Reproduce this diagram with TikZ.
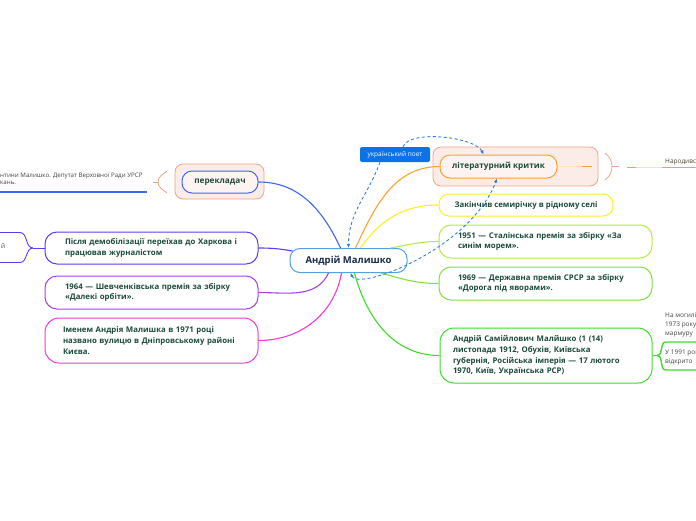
\documentclass[tikz,border=0pt]{standalone}
\usepackage{fontspec}
\setmainfont{Open Sans}
\usetikzlibrary{arrows.meta}

\definecolor{cntblue}{HTML}{559FE3}
\definecolor{navy}{HTML}{1A2B4C}
\definecolor{txtgreen}{HTML}{1D4B3B}
\definecolor{tagblue}{HTML}{0B73E6}
\definecolor{relblue}{HTML}{2F7FE0}
\definecolor{orange1}{HTML}{FFA030}
\definecolor{palorange}{HTML}{FFE2BC}
\definecolor{bndfill}{HTML}{FCECE7}
\definecolor{bndline}{HTML}{EDA48A}
\definecolor{brblue}{HTML}{3F66F0}
\definecolor{yellow1}{HTML}{FFEE22}
\definecolor{ygreen}{HTML}{B5EC3C}
\definecolor{green1}{HTML}{7FE03E}
\definecolor{green2}{HTML}{3CDD2A}
\definecolor{violet1}{HTML}{5B3DF0}
\definecolor{purple1}{HTML}{A83EF0}
\definecolor{magenta1}{HTML}{EE3AD8}
\definecolor{notegray}{HTML}{444444}

\tikzstyle{topic} = [
		rectangle,
		rounded corners = 12pt,
		draw,
		line width = 1pt,
		fill = white,
		text = txtgreen,
		font = \bfseries\fontsize{7.8}{10.8}\selectfont,
		align = left,
		inner sep = 0pt
	]
\tikzstyle{boundary} = [
		rectangle,
		rounded corners = 8pt,
		draw = bndline,
		fill = bndfill,
		line width = .8pt
	]
\tikzstyle{branch} = [
		line width = 1.1pt
	]
\tikzstyle{relation} = [
		draw = relblue,
		line width = .9pt,
		dash pattern = on 3pt off 2.5pt
	]
\tikzstyle{note} = [
		font = \fontsize{6.5}{9}\selectfont,
		text = notegray,
		inner sep = 0pt,
		align = left
	]

\begin{document}
\begin{tikzpicture}[
		x = 1pt,
		y = 1pt,
		>={Latex[length=4pt,width=3.5pt]}
	]
	\useasboundingbox (0,0) rectangle (696,-520);
	\clip (0,0) rectangle (696,-520);

		%------------------------------Topics------------------------------
		\node [topic, draw=cntblue, text=navy, rounded corners=10pt, minimum width=117pt, minimum height=24pt,
			font=\bfseries\fontsize{9.5}{11}\selectfont] (malyshko) at (348.5,-260.5) {Андрій Малишко};

		\node [boundary, minimum width=165pt, minimum height=39pt] (critbnd) at (515.5,-166.5) {};
		\node [topic, draw=orange1, fill=bndfill!60, rounded corners=10pt, minimum width=117pt, minimum height=23pt,
			font=\bfseries\fontsize{8.2}{10}\selectfont] (critic) at (498.5,-166.5) {літературний критик};
		\node [topic, draw=yellow1, rounded corners=10pt, minimum width=174pt, minimum height=22pt] (school) at (526,-205) {Закінчив семирічку в рідному селі};
		\node [topic, draw=ygreen, minimum width=213pt, minimum height=33pt, text width=175pt] (stalin) at (545.5,-241.5)
			{1951 — Сталінська премія за збірку «За\\синім морем».};
		\node [topic, draw=green1, minimum width=213pt, minimum height=33pt, text width=175pt] (ussr) at (545.5,-283.5)
			{1969 — Державна премія СРСР за збірку\\«Дорога під яворами».};
		\node [topic, draw=green2, rounded corners=14pt, minimum width=212pt, minimum height=55pt, text width=186pt] (bio) at (546,-355.5)
			{Андрій Самійлович Малйшко (1 (14)\\листопада 1912, Обухів, Київська\\губернія, Російська імперія — 17 лютого\\1970, Київ, Українська РСР)};

		\node [boundary, minimum width=89pt, minimum height=35pt] (translbnd) at (219.5,-181.5) {};
		\node [topic, draw=brblue, fill=bndfill!60, rounded corners=10pt, minimum width=76pt, minimum height=22pt,
			font=\bfseries\fontsize{8.2}{10}\selectfont] (transl) at (220,-182) {перекладач};
		\node [topic, draw=violet1, minimum width=213pt, minimum height=32pt, text width=173pt] (demob) at (151.5,-248)
			{Після демобілізації переїхав до Харкова і\\працював журналістом};
		\node [topic, draw=purple1, minimum width=213pt, minimum height=33pt, text width=173pt] (shevch) at (151.5,-292.5)
			{1964 — Шевченківська премія за збірку\\«Далекі орбіти».};
		\node [topic, draw=magenta1, rounded corners=14pt, minimum width=213pt, minimum height=45pt, text width=177pt] (street) at (151.5,-340.5)
			{Іменем Андрія Малишка в 1971 році\\названо вулицю в Дніпровському районі\\Києва.};

		\node [fill=tagblue, text=white, rounded corners=2pt, minimum width=70pt, minimum height=15pt, inner sep=0pt,
			font=\fontsize{6.5}{7}\selectfont] (poet) at (395,-154.5) {український поет};

		%------------------------------Branches------------------------------
		\draw [branch, brblue] (transl.east) to[out=0, in=115] ([xshift=-8pt]malyshko.north);
		\draw [branch, orange1] ([xshift=7pt]malyshko.north) to[out=65, in=180] (critic.west);
		\draw [branch, yellow1] ([xshift=12pt]malyshko.north) to[out=55, in=180] (school.west);
		\draw [branch, ygreen] ([xshift=42pt]malyshko.north) to[out=10, in=180] (stalin.west);
		\draw [branch, green1] ([xshift=32pt]malyshko.south) to[out=-15, in=180] (ussr.west);
		\draw [branch, green2] ([xshift=6pt]malyshko.south) to[out=-75, in=180] (bio.west);
		\draw [branch, violet1] (demob.east) to[out=0, in=170] ([shift={(3pt,-3pt)}]malyshko.north west);
		\draw [branch, purple1] ([xshift=-20pt]malyshko.south) to[out=-115, in=0] (shevch.east);
		\draw [branch, magenta1] ([xshift=-7pt]malyshko.south) to[out=-100, in=0] (street.east);

		%------------------------------Relations------------------------------
		\draw [relation, ->] ([xshift=-15pt]poet.south) to[out=-110, in=90] (malyshko.north);
		\draw [relation, ->] ([xshift=8pt]poet.north) to[out=70, in=115, looseness=.6] ([xshift=-15pt]critic.north);
		\draw [relation, <->] ([xshift=2pt]malyshko.south) .. controls +(8pt,-18pt) and +(-27pt,-71pt) .. ([xshift=-1.5pt]critic.south);

		%------------------------------Subtopics------------------------------
		% critic
		\coordinate (critstub) at (592,-166.5);
		\coordinate (critbrk) at (612,-166.5);
		\draw [line width=1.1pt, palorange] (critic.east) -- (critstub);
		\draw [line width=1.1pt, orange1] ([xshift=-10pt]critstub) -- (critstub);
		\draw [bndline, line width=.8pt] (605,-153) to[out=-40, in=90] (critbrk) to[out=-90, in=40] (605,-180);
		\draw [bndline, line width=.8pt] (critbrk) -- ++(7,0);
		\node [note, anchor=base west] (critnote) at (665,-163) {Народився};
		\draw [line width=1.4pt, orange1] (627,-167.5) -- (696,-167.5);
		\draw [line width=1.4pt, palorange] (636,-167.5) -- (662,-167.5);

		% translator
		\coordinate (translbrk) at (158,-182);
		\draw [bndline, line width=.8pt] (167,-171) to[out=-140, in=90] (translbrk) to[out=-90, in=140] (167,-193);
		\draw [bndline, line width=.8pt] (translbrk) -- ++(-5,0);
		\node [note, anchor=north west, font=\fontsize{6.2}{7.2}\selectfont] (translnote) at (0,-172.5)
			{нтини Малишко. Депутат Верховної Ради УРСР\\кань.};
		\draw [line width=1.4pt, brblue] (0,-192) -- (147,-192);

		% demobilisation
		\coordinate (demobfork) at (33,-248);
		\draw [line width=.9pt, violet1] (demob.west) -- (demobfork);
		\draw [line width=.9pt, violet1] (demobfork) to[out=180, in=0] (20,-232.5) -- (0,-232.5);
		\draw [line width=.9pt, violet1] (demobfork) to[out=180, in=0] (20,-262.5) -- (0,-262.5);
		\node [note, anchor=base east] (demobnote) at (5.5,-248) {й};

		% biography
		\coordinate (biofork) at (657,-355.5);
		\draw [line width=.9pt, green2] (bio.east) -- (biofork);
		\draw [line width=1.4pt, green2] (biofork) to[out=0, in=180] (666,-342) -- (696,-342);
		\draw [line width=1.4pt, green2] (biofork) to[out=0, in=180] (666,-370) -- (696,-370);
		\node [note, anchor=north west] (grave) at (665,-312.5) {На могилі\\1973 року\\мармуру};
		\node [note, anchor=north west] (museum) at (665,-349.5) {У 1991 році\\відкрито};

	\end{tikzpicture}
\end{document}
